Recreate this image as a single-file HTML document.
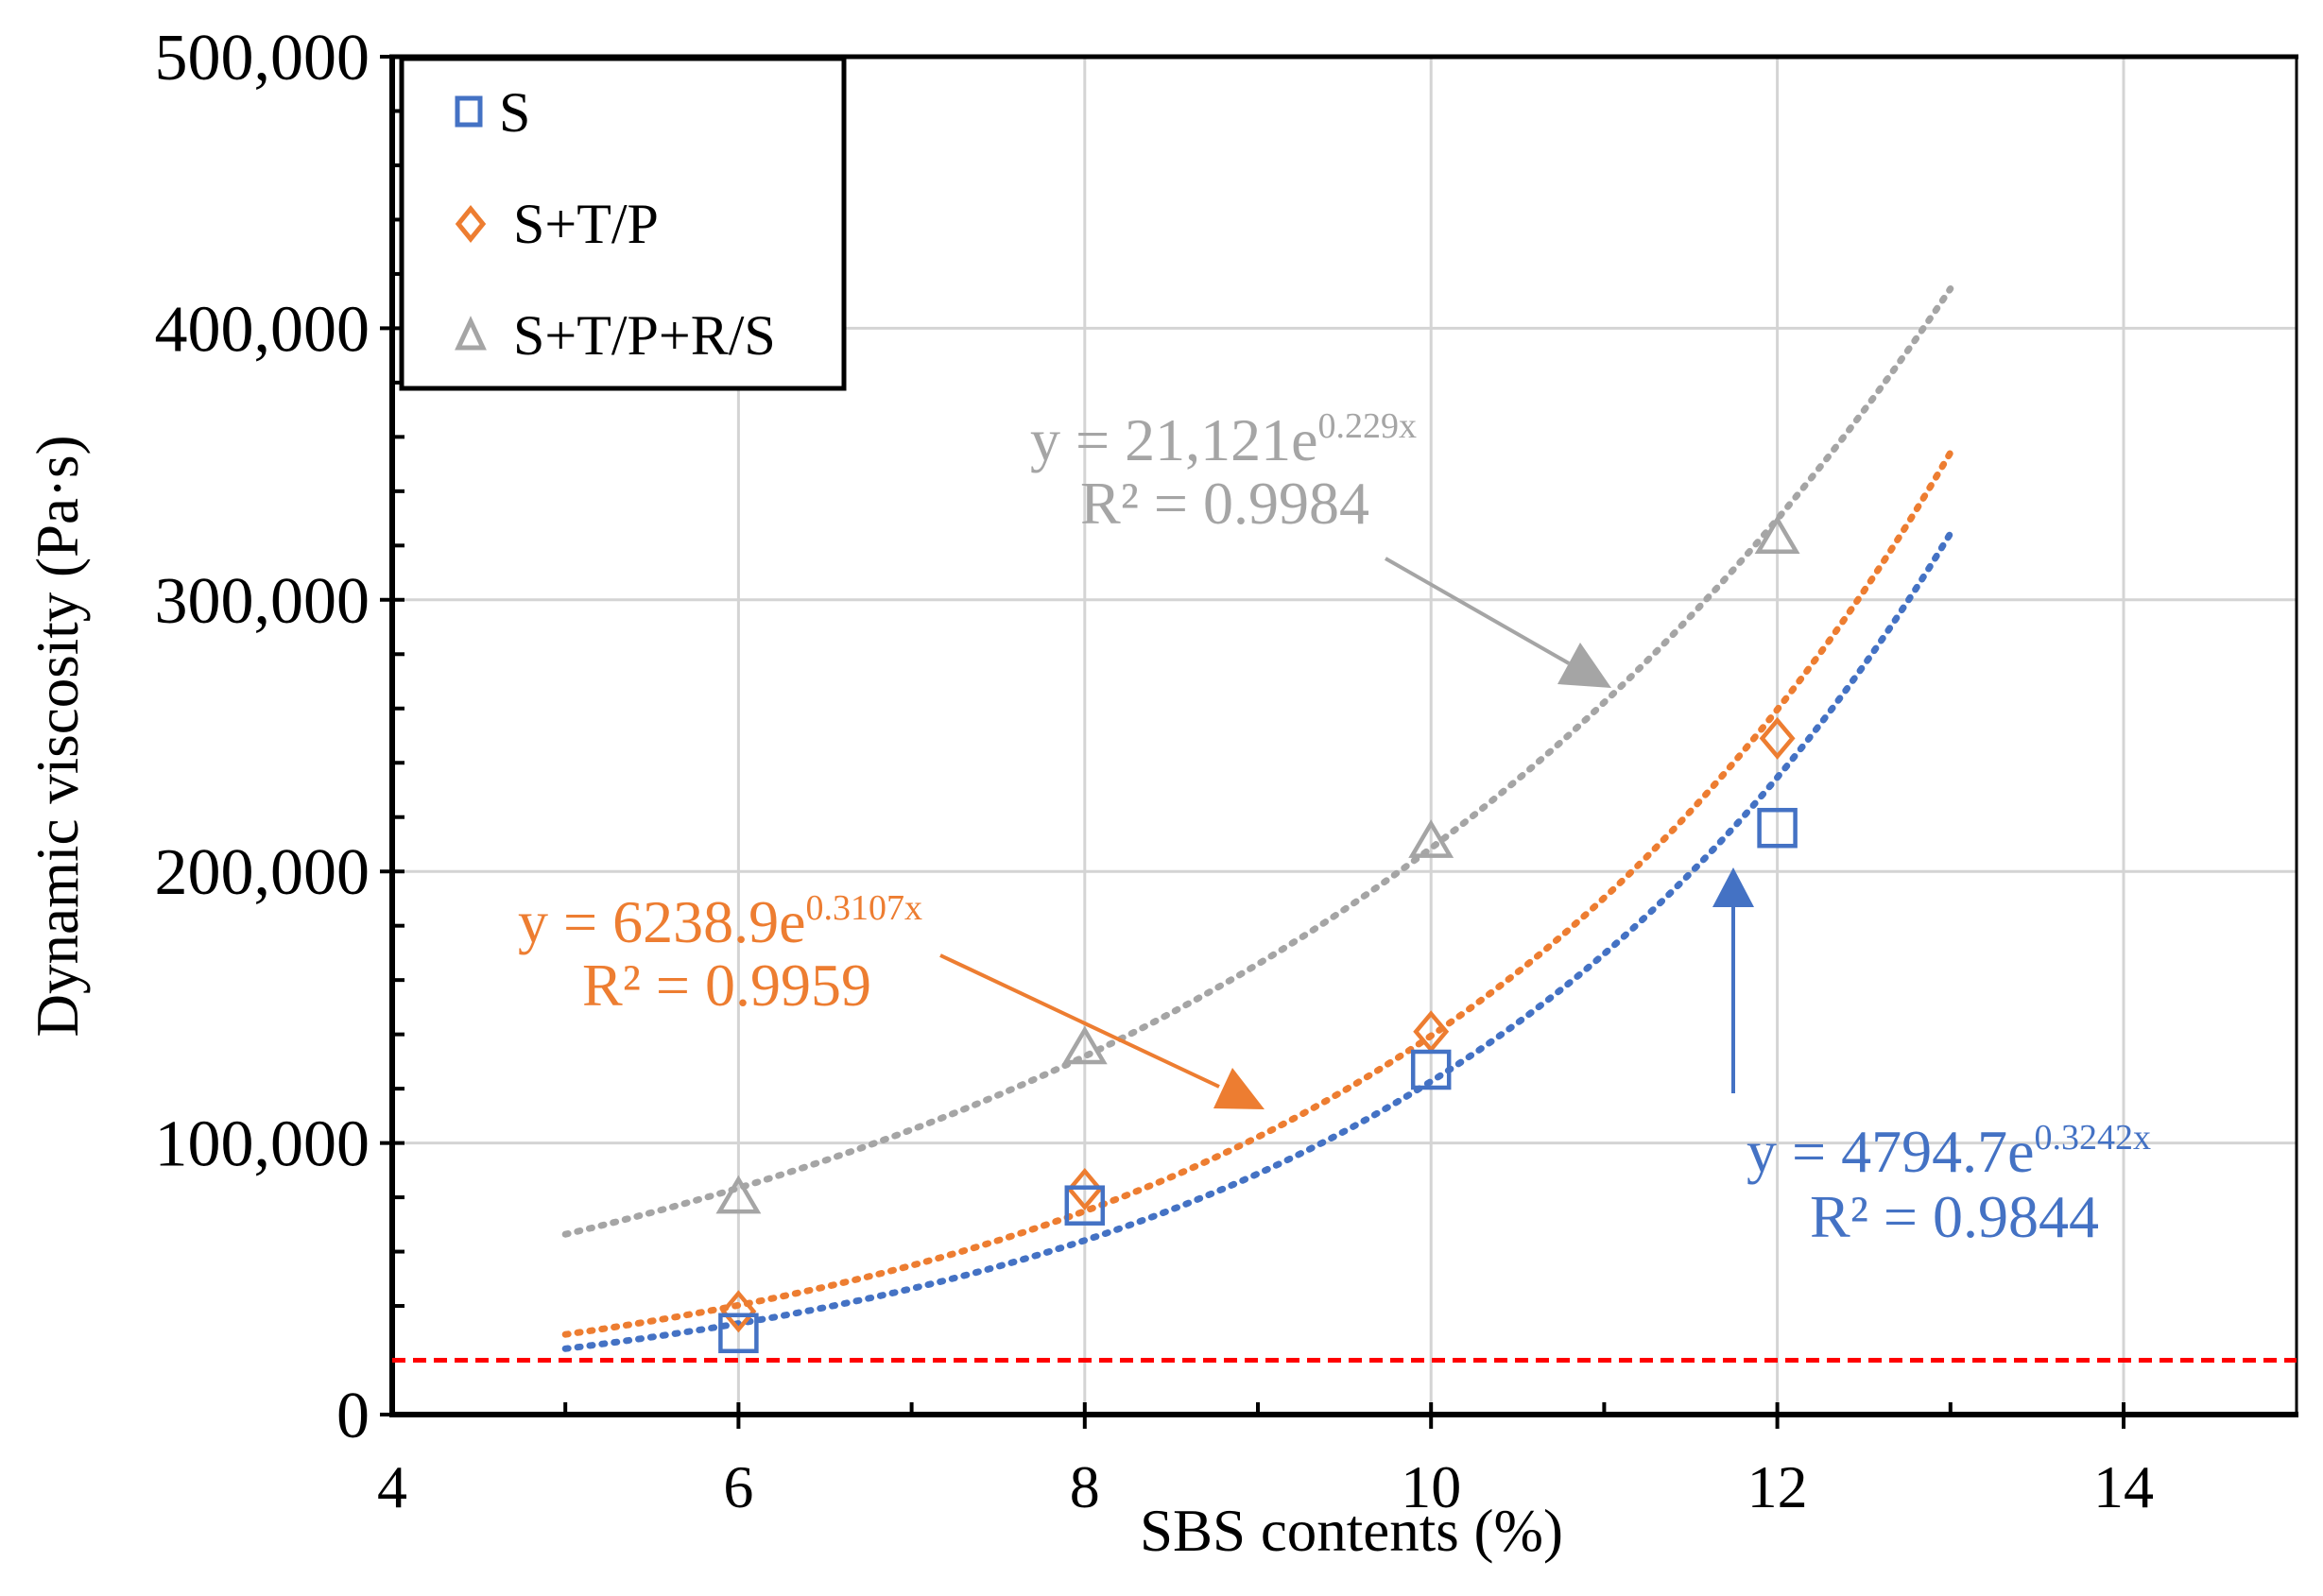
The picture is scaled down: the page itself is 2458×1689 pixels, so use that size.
<!DOCTYPE html>
<html><head><meta charset="utf-8"><style>
html,body{margin:0;padding:0;background:#fff;}
svg{display:block;}
text{font-family:"Liberation Serif",serif;}
</style></head><body>
<svg id="s" width="2458" height="1689" viewBox="0 0 2458 1689" xmlns="http://www.w3.org/2000/svg">
<g id="grid" stroke="#d4d4d4" stroke-width="3"></g>
<g id="ticks" stroke="#000" stroke-width="4"></g>
<line x1="415" y1="1497" x2="2432" y2="1497" stroke="#000" stroke-width="6"/>
<line x1="415" y1="58" x2="415" y2="1500" stroke="#000" stroke-width="6"/>
<line x1="412" y1="60" x2="2432" y2="60" stroke="#000" stroke-width="5"/>
<line x1="2430" y1="58" x2="2430" y2="1500" stroke="#000" stroke-width="3"/>
<line x1="415" y1="1439.5" x2="2430" y2="1439.5" stroke="#ff0000" stroke-width="5" stroke-dasharray="14,8"/>
<g id="curves" fill="none" stroke-width="7" stroke-dasharray="3,10" stroke-linecap="round"></g>
<g id="pts" fill="none" stroke-width="4.5"></g>
<g font-size="70" fill="#000" text-anchor="end" id="ylab"></g>
<g font-size="64" fill="#000" text-anchor="middle" id="xlab"></g>
<text x="1430" y="1641" font-size="63" text-anchor="middle">SBS contents (%)</text>
<text transform="translate(82,779) rotate(-90)" font-size="63" text-anchor="middle">Dynamic viscosity (Pa·s)</text>
<!-- legend -->
<rect x="425" y="62" width="468" height="349" fill="#fff" stroke="#000" stroke-width="5"/>
<rect x="484" y="104" width="24" height="28" fill="none" stroke="#4472c4" stroke-width="5"/>
<text x="528" y="139" font-size="60">S</text>
<path d="M498,221 L511,237 L498,253 L485,237 Z" fill="none" stroke="#ed7d31" stroke-width="5"/>
<text x="543" y="257" font-size="60">S+T/P</text>
<path d="M498,340 L511,368 L485,368 Z" fill="none" stroke="#a5a5a5" stroke-width="5"/>
<text x="543" y="375" font-size="60">S+T/P+R/S</text>
<!-- annotations -->
<text x="1090" y="487" font-size="64" fill="#a5a5a5">y = 21,121e<tspan font-size="38" dy="-24">0.229x</tspan></text>
<text x="1143" y="554" font-size="64" fill="#a5a5a5">R² = 0.9984</text>
<line x1="1466" y1="591" x2="1660" y2="702" stroke="#a5a5a5" stroke-width="4"/>
<path d="M1705,728 L1648,724 L1672,680 Z" fill="#a5a5a5"/>
<text x="548" y="997" font-size="64" fill="#ed7d31">y = 6238.9e<tspan font-size="38" dy="-24">0.3107x</tspan></text>
<text x="616" y="1064" font-size="64" fill="#ed7d31">R² = 0.9959</text>
<line x1="995" y1="1011" x2="1290" y2="1150" stroke="#ed7d31" stroke-width="4"/>
<path d="M1338,1174 L1284,1173 L1304,1130 Z" fill="#ed7d31"/>
<line x1="1834" y1="1157" x2="1834" y2="960" stroke="#4472c4" stroke-width="4"/>
<path d="M1834,918 L1856,960 L1812,960 Z" fill="#4472c4"/>
<text x="1848" y="1240" font-size="64" fill="#4472c4">y = 4794.7e<tspan font-size="38" dy="-24">0.3242x</tspan></text>
<text x="1915" y="1309" font-size="64" fill="#4472c4">R² = 0.9844</text>
</svg>
<script>
const NS="http://www.w3.org/2000/svg";
const X=v=>415+(v-4)*183.2, Y=v=>1497-v*0.002874;
function el(p,t,a){const e=document.createElementNS(NS,t);for(const k in a)e.setAttribute(k,a[k]);document.getElementById(p).appendChild(e);return e;}
for(const v of [6,8,10,12,14]) el("grid","line",{x1:X(v),y1:60,x2:X(v),y2:1497});
for(let v=100000;v<=400000;v+=100000) el("grid","line",{x1:415,y1:Y(v),x2:2430,y2:Y(v)});
for(let v=5;v<=14;v++){const maj=v%2==0;el("ticks","line",{x1:X(v),y1:1484,x2:X(v),y2:maj?1512:1497});}
for(let v=0;v<=500000;v+=20000){const maj=v%100000==0;el("ticks","line",{x1:maj?402:415,y1:Y(v),x2:428,y2:Y(v)});}
for(let v=0;v<=500000;v+=100000){const t=el("ylab","text",{x:391,y:Y(v)+24});t.textContent=v.toLocaleString("en-US");}
for(let v=4;v<=14;v+=2){const t=el("xlab","text",{x:X(v),y:1595});t.textContent=v;}
const fits=[["#a5a5a5",21121,0.229],["#ed7d31",6238.9,0.3107],["#4472c4",4794.7,0.3242]];
for(const [c,a,b] of fits){let d="";for(let x=5;x<=13.001;x+=0.05){d+=(d?"L":"M")+X(x).toFixed(1)+","+Y(a*Math.exp(b*x)).toFixed(1);}el("curves","path",{d:d,stroke:c});}
const S=[30000,77000,127000,216000],P=[38000,83000,141000,249000],G=[80000,135000,211000,323000];
[6,8,10,12].forEach((x,i)=>{const cx=X(x);
let y=Y(G[i]);el("pts","path",{d:`M${cx},${y-19} L${cx+20},${y+15} L${cx-20},${y+15} Z`,stroke:"#a5a5a5"});
y=Y(P[i]);el("pts","path",{d:`M${cx},${y-19} L${cx+16},${y} L${cx},${y+19} L${cx-16},${y} Z`,stroke:"#ed7d31"});
y=Y(S[i]);el("pts","rect",{x:cx-19,y:y-19,width:38,height:38,stroke:"#4472c4"});});
</script>
</body></html>
